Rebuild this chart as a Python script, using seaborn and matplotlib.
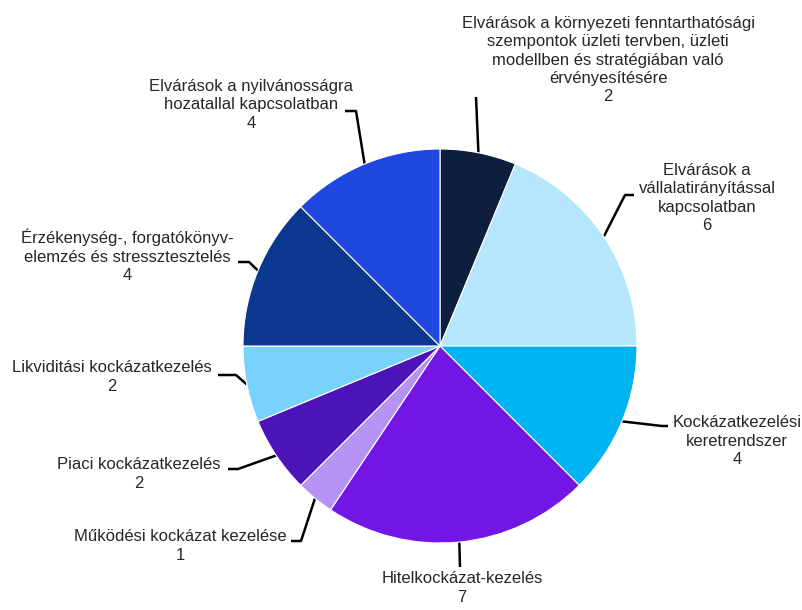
import numpy as np
import seaborn as sns
import matplotlib
matplotlib.use("Agg")
import matplotlib.pyplot as plt

# data, clockwise from 12 o'clock
labels = [
    "Elvárások a környezeti fenntarthatósági\nszempontok üzleti tervben, üzleti\nmodellben és stratégiában való\nérvényesítésére",
    "Elvárások a\nvállalatirányítással\nkapcsolatban",
    "Kockázatkezelési\nkeretrendszer",
    "Hitelkockázat-kezelés",
    "Működési kockázat kezelése",
    "Piaci kockázatkezelés",
    "Likviditási kockázatkezelés",
    "Érzékenység-, forgatókönyv-\nelemzés és stressztesztelés",
    "Elvárások a nyilvánosságra\nhozatallal kapcsolatban",
]
counts = [2, 6, 4, 7, 1, 2, 2, 4, 4]
colors = ["#0d1f3c", "#b5e6fb", "#00b4f2", "#7216e6", "#b593f5",
          "#4c13b8", "#78d2fb", "#0b378f", "#1e48e0"]

# label layout in pixel coords (y from top): text centre, elbow points
text_pos = [(608, 60), (707, 198), (737, 441), (462, 588), (180, 546),
            (139, 474), (112, 377), (127, 256), (251, 105)]
elbows = [
    [(476, 97)],
    [(625, 195), (634, 195)],
    [(662, 426), (668, 426)],
    [(460, 567)],
    [(301, 541), (291, 541)],
    [(238, 469), (228, 469)],
    [(236, 375), (218, 375)],
    [(249, 262), (238, 262)],
    [(356, 111), (345, 111)],
]

W, H = 802, 610
cx, cy, R = 440, 346, 197

sns.set_style("white")
plt.rcParams["font.family"] = ["Liberation Sans", "DejaVu Sans"]

fig = plt.figure(figsize=(W / 100, H / 100), dpi=100)
ax = fig.add_axes([0, 0, 1, 1])

wedges, _ = ax.pie(counts, colors=colors, startangle=90, counterclock=False,
                   center=(cx, H - cy), radius=R, frame=True,
                   wedgeprops=dict(edgecolor="white", linewidth=0.8))
ax.set_xlim(0, W)
ax.set_ylim(0, H)
ax.set_aspect("equal")
ax.axis("off")

for w, lab, n, tp, el in zip(wedges, labels, counts, text_pos, elbows):
    ang = np.deg2rad((w.theta1 + w.theta2) / 2)
    x0 = cx + R * np.cos(ang)
    y0 = (H - cy) + R * np.sin(ang)
    xs = [x0] + [p[0] for p in el]
    ys = [y0] + [H - p[1] for p in el]
    ax.plot(xs, ys, color="black", lw=1.8, solid_capstyle="butt", zorder=0)
    ax.text(tp[0], H - tp[1], f"{lab}\n{n}", ha="center", va="center",
            multialignment="center", fontsize=12, color="#262626",
            linespacing=1.28)

fig.savefig("out.png", dpi=100)
